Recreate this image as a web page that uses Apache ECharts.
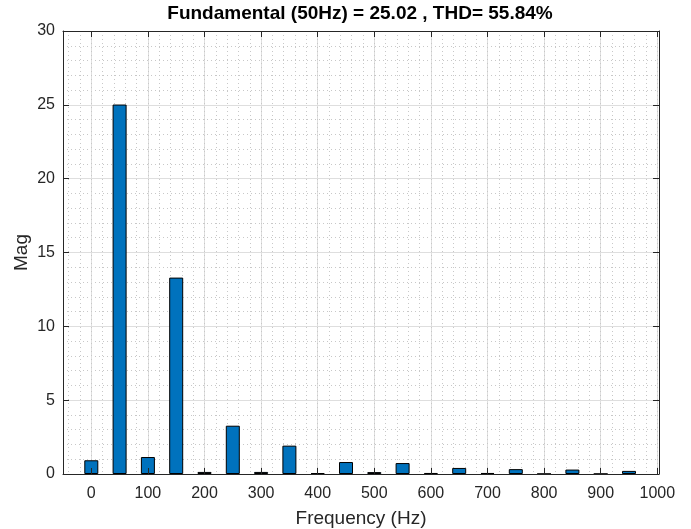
<!DOCTYPE html>
<html>
<head>
<meta charset="utf-8">
<script src="https://cdn.jsdelivr.net/npm/echarts@6/dist/echarts.min.js"></script>
<style>
  html, body { margin: 0; padding: 0; background: #fff; }
  #chart { width: 691px; height: 529px; }
</style>
</head>
<body>
<div id="chart"></div>
<script>
  // spectrum data (Hz, magnitude)
  const freqs = [0, 50, 100, 150, 200, 250, 300, 350, 400, 450, 500, 550, 600, 650, 700, 750, 800, 850, 900, 950]
  const mags = [0.93, 25.02, 1.15, 13.3, 0.14, 3.27, 0.14, 1.92, 0.06, 0.81, 0.13, 0.74, 0.07, 0.41, 0.07, 0.33, 0.01, 0.3, 0.01, 0.21]
  const xTicks = [0, 100, 200, 300, 400, 500, 600, 700, 800, 900, 1000]
  const xMinorTicks = [-40, -20, 0, 20, 40, 60, 80, 100, 120, 140, 160, 180, 200, 220, 240, 260, 280, 300, 320, 340, 360, 380, 400, 420, 440, 460, 480, 500, 520, 540, 560, 580, 600, 620, 640, 660, 680, 700, 720, 740, 760, 780, 800, 820, 840, 860, 880, 900, 920, 940, 960, 980, 1000]
  const titleText = 'Fundamental (50Hz) = 25.02 , THD= 55.84%'

  const font = '"Liberation Sans", Arial, Helvetica, sans-serif'
  const ink = '#262626'
  const X_MIN = -50, X_MAX = 1003

  const chart = echarts.init(document.getElementById('chart'))

  const hiddenX = (extra) => Object.assign({
    type: 'value', min: X_MIN, max: X_MAX, position: 'bottom',
    axisLine: { show: false, onZero: false }, axisLabel: { show: false }
  }, extra)

  const option = {
    animation: false,
    backgroundColor: '#fff',
    graphic: [{
      type: 'text', x: 360, y: 4,
      style: { text: titleText, font: 'bold 19px ' + font, fill: '#000', align: 'center', verticalAlign: 'top' }
    }],
    grid: { left: 63, right: 32, top: 31, bottom: 55, outerBoundsMode: 'none', containLabel: false },
    xAxis: [
      {
        type: 'value', min: X_MIN, max: X_MAX, position: 'bottom', z: 5,
        name: 'Frequency (Hz)', nameLocation: 'middle', nameGap: 35,
        nameTextStyle: { fontFamily: font, fontSize: 19, color: ink },
        axisLine: { show: true, onZero: false, lineStyle: { color: ink, width: 1 } },
        axisTick: { show: true, inside: true, length: 6, customValues: xTicks, lineStyle: { color: ink } },
        axisLabel: { customValues: xTicks, formatter: (v) => String(v), fontFamily: font, fontSize: 16, color: ink, margin: 12 },
        splitLine: { show: false }
      },
      hiddenX({
        axisTick: { show: false, customValues: xTicks },
        splitLine: { show: true, lineStyle: { color: '#dedede', width: 1 } }
      }),
      hiddenX({
        axisTick: { show: false, customValues: xMinorTicks },
        splitLine: { show: true, lineStyle: { color: '#c8c8c8', width: 1, type: [1, 3] } }
      }),
      {
        type: 'value', min: X_MIN, max: X_MAX, position: 'top', z: 5,
        axisLine: { show: true, onZero: false, lineStyle: { color: ink, width: 1 } },
        axisTick: { show: true, inside: true, length: 6, customValues: xTicks, lineStyle: { color: ink } },
        axisLabel: { show: false },
        splitLine: { show: false }
      }
    ],
    yAxis: [
      {
        type: 'value', min: 0, max: 30, interval: 5, position: 'left', z: 5,
        name: 'Mag', nameLocation: 'middle', nameGap: 32, nameRotate: 90, nameMoveOverlap: false,
        nameTextStyle: { fontFamily: font, fontSize: 19, color: ink },
        axisLine: { show: true, onZero: false, lineStyle: { color: ink, width: 1 } },
        axisTick: { show: true, inside: true, length: 6, lineStyle: { color: ink } },
        axisLabel: { fontFamily: font, fontSize: 16, color: ink, margin: 8 },
        splitLine: { show: false }
      },
      {
        type: 'value', min: 0, max: 30, interval: 5, position: 'left',
        axisLine: { show: false, onZero: false }, axisTick: { show: false }, axisLabel: { show: false },
        splitLine: { show: true, lineStyle: { color: '#dedede', width: 1 } },
        minorTick: { show: false, splitNumber: 5 },
        minorSplitLine: { show: true, lineStyle: { color: '#c8c8c8', width: 1, type: [1, 3] } }
      },
      {
        type: 'value', min: 0, max: 30, interval: 5, position: 'right', z: 5,
        axisLine: { show: true, onZero: false, lineStyle: { color: ink, width: 1 } },
        axisTick: { show: true, inside: true, length: 6, lineStyle: { color: ink } },
        axisLabel: { show: false },
        splitLine: { show: false }
      }
    ],
    series: [
      {
        type: 'bar',
        xAxisIndex: 0,
        yAxisIndex: 0,
        barWidth: 14,
        itemStyle: { color: '#0072BD', borderColor: '#000', borderWidth: 1 },
        data: freqs.map((f, i) => [f, mags[i]])
      }
    ]
  }

  option && chart.setOption(option)
</script>
</body>
</html>
